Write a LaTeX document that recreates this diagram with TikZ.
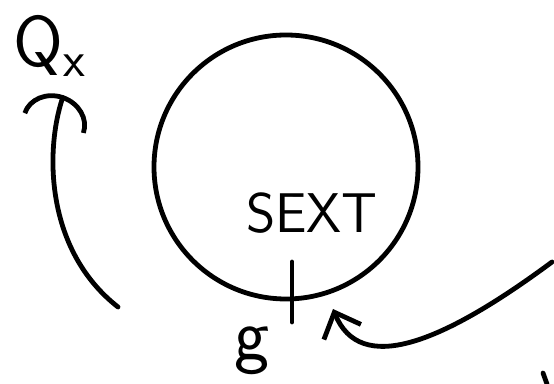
\documentclass[tikz,border=0pt]{standalone}
\usetikzlibrary{arrows.meta}
\tikzset{
  ink/.style={line width=3.6pt, line cap=round, line join=round},
  hand/.style={font=\sffamily\fontsize{42}{42}\selectfont, inner sep=0pt},
  flow/.style={ink, -{Straight Barb[length=16pt,width=30pt]}},
  lift/.style={ink, -{Arc Barb[length=22pt,width=50pt,sep=20pt]}},
}
\begin{document}
\begin{tikzpicture}[x=0.75pt,y=-0.75pt]
\useasboundingbox (0,0) rectangle (554,384);
% region
\node[ink, draw, circle, minimum size=198pt, inner sep=0pt] (ring) at (286,167) {};
\node[hand] (sext) at (312,213) {SEXT};
\node[hand, font=\sffamily\fontsize{56}{56}\selectfont] (g) at (252,351) {g};
\node[hand, font=\sffamily\fontsize{54}{54}\selectfont] (qx) at (50,46) {Q\textsubscript{x}};
% ends of the arrows
\coordinate (tickTop) at (292,262);
\coordinate (tickBot) at (292,322);
\coordinate (outStart) at (118,307);
\coordinate (outEnd) at (72,70);
\coordinate (inStart) at (552,262);
\coordinate (inEnd) at (333,309);
\draw[ink] (tickTop) -- (tickBot);
\draw[lift] (outStart) .. controls (45,250) and (45,150) .. (outEnd);
\draw[flow] (inStart) .. controls (440,345) and (360,375) .. (inEnd);
\draw[ink] (543,373) -- (547,384);
\end{tikzpicture}
\end{document}
